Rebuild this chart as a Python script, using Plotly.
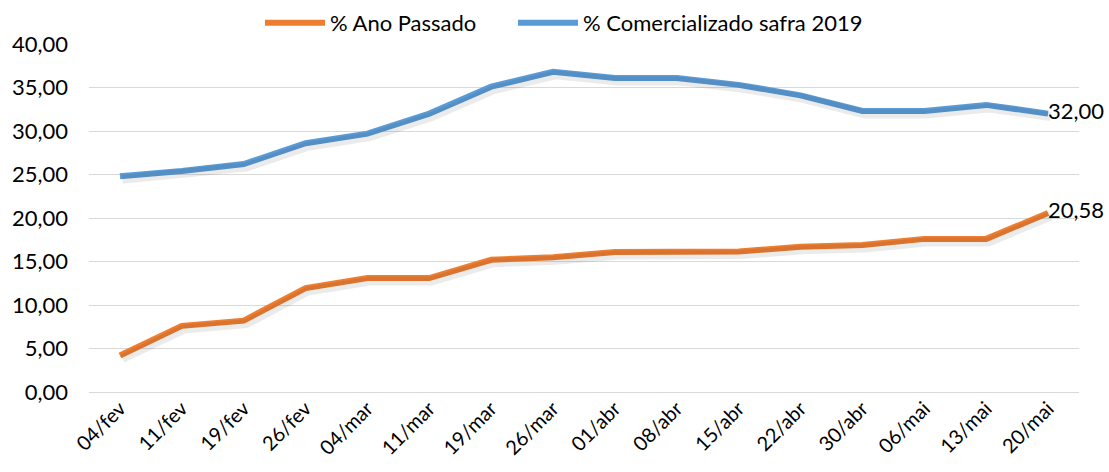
import plotly.graph_objects as go

categories = ["04/fev", "11/fev", "19/fev", "26/fev", "04/mar", "11/mar", "19/mar", "26/mar",
              "01/abr", "08/abr", "15/abr", "22/abr", "30/abr", "06/mai", "13/mai", "20/mai"]
ano_passado = [4.2, 7.6, 8.2, 11.95, 13.1, 13.1, 15.2, 15.5,
               16.1, 16.15, 16.15, 16.7, 16.9, 17.6, 17.6, 20.58]
comercializado_2019 = [24.8, 25.4, 26.2, 28.6, 29.7, 32.0, 35.1, 36.8,
                       36.1, 36.1, 35.3, 34.1, 32.3, 32.3, 33.0, 32.0]
y_ticks = [0, 5, 10, 15, 20, 25, 30, 35, 40]

FONT = "Lato, 'Open Sans', sans-serif"
W, H = 1109, 472

def last_only(vals):
    return [""] * (len(vals) - 1) + [f"{vals[-1]:.2f}".replace(".", ",")]

fig = go.Figure()

# soft drop shadows (same data, drawn on slightly offset overlay axes)
for vals in (ano_passado, comercializado_2019):
    fig.add_trace(go.Scatter(
        x=categories, y=vals, mode="lines", showlegend=False, hoverinfo="skip",
        line=dict(color="rgba(0,0,0,0.08)", width=9),
        xaxis="x2", yaxis="y2",
    ))

fig.add_trace(go.Scatter(
    x=categories, y=ano_passado, name="% Ano Passado",
    mode="lines+text", text=last_only(ano_passado), textposition="middle right",
    textfont=dict(size=22, color="#000000", family=FONT),
    line=dict(color="#ED7D31", width=6),
    cliponaxis=False, legend="legend",
))
fig.add_trace(go.Scatter(
    x=categories, y=comercializado_2019, name="% Comercializado safra 2019",
    mode="lines+text", text=last_only(comercializado_2019), textposition="middle right",
    textfont=dict(size=22, color="#000000", family=FONT),
    line=dict(color="#5B9BD5", width=6),
    cliponaxis=False, legend="legend2",
))

legend_common = dict(orientation="h", xanchor="left", xref="container",
                     y=1 - 23 / H, yanchor="middle", yref="container",
                     font=dict(size=22, family=FONT, color="#000000"),
                     itemwidth=60, bgcolor="rgba(0,0,0,0)")

fig.update_layout(
    width=W, height=H,
    margin=dict(l=89, r=30, t=44, b=80, autoexpand=False),
    paper_bgcolor="white", plot_bgcolor="white",
    separators=",.",
    font=dict(family=FONT, size=22, color="#000000"),
    showlegend=True,
    legend=dict(x=(262 - 2) / W, **legend_common),
    legend2=dict(x=(515 - 2) / W, **legend_common),
    xaxis2=dict(type="category", overlaying="x", range=[-0.5 - 0.04, 15.5 - 0.04],
                visible=False),
    yaxis2=dict(overlaying="y", range=[0 + 0.35, 40 + 0.35], visible=False),
    xaxis=dict(type="category", tickangle=-45, showgrid=False, showline=False,
               ticks="", automargin=False, range=[-0.5, 15.5],
               tickfont=dict(size=20, family=FONT, color="#000000")),
    yaxis=dict(range=[0, 40], tickvals=y_ticks, tickformat=".2f",
               showgrid=True, gridcolor="#D9D9D9", gridwidth=1,
               zeroline=True, zerolinecolor="#D9D9D9", zerolinewidth=1,
               showline=False, ticks="", ticklen=0, automargin=False,
               ticklabelstandoff=20,
               tickfont=dict(size=22, family=FONT, color="#000000")),
)

fig.write_html("out.html",
               config={"displayModeBar": False},
               post_script="document.body.style.margin='0';document.body.style.padding='0';")
